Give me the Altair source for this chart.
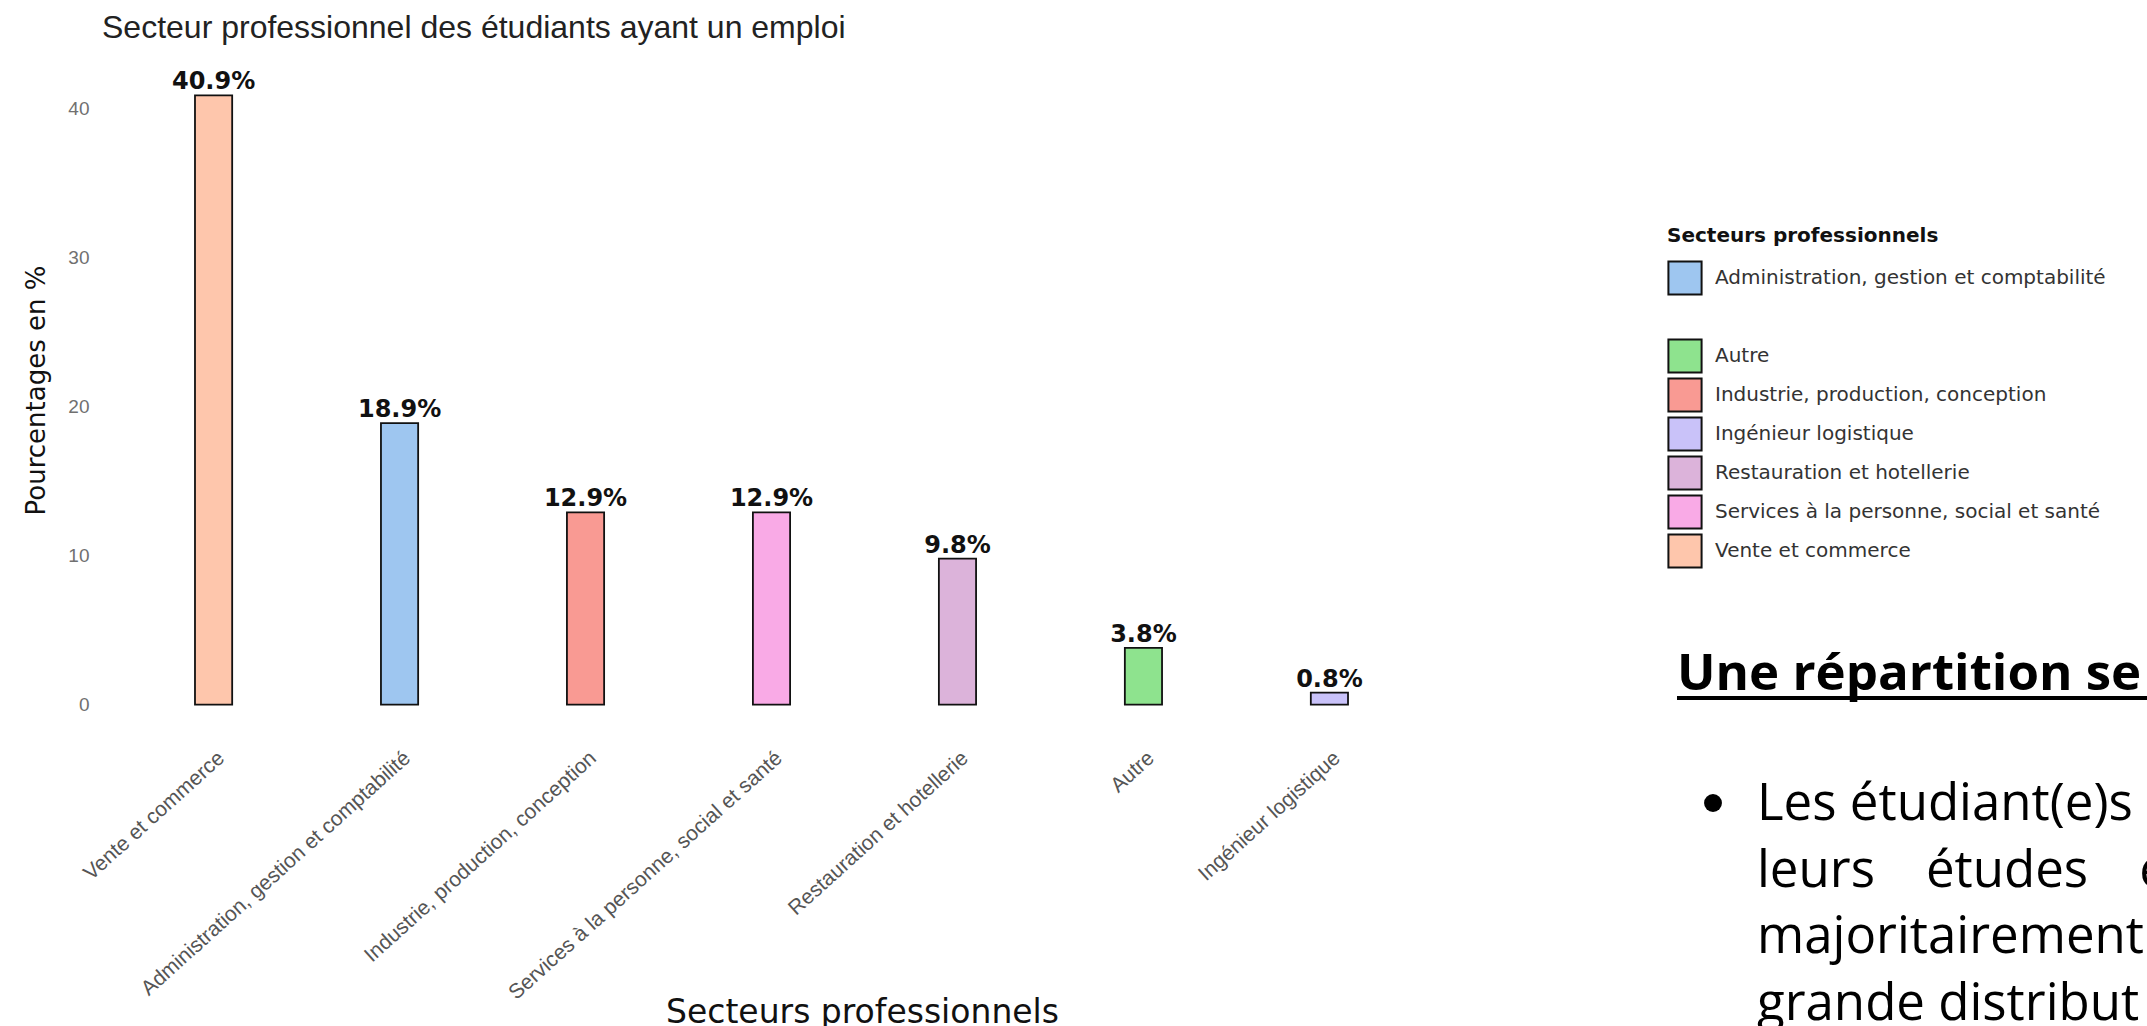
import altair as alt
import pandas as pd

# ---- data ----
sectors = [
    "Vente et commerce",
    "Administration, gestion et comptabilité",
    "Industrie, production, conception",
    "Services à la personne, social et santé",
    "Restauration et hotellerie",
    "Autre",
    "Ingénieur logistique",
]
values = [40.9, 18.9, 12.9, 12.9, 9.8, 3.8, 0.8]

legend_order = [
    "Administration, gestion et comptabilité",
    " ",
    "Autre",
    "Industrie, production, conception",
    "Ingénieur logistique",
    "Restauration et hotellerie",
    "Services à la personne, social et santé",
    "Vente et commerce",
]
fill_colors = ["#9ec6f0", "#ffffff", "#8ee38e", "#f99a93", "#c9c2f9", "#dcb3da", "#f9aae6", "#fec6ac"]
stroke_colors = ["#111111", "#ffffff", "#111111", "#111111", "#111111", "#111111", "#111111", "#111111"]

y_ticks = [0, 10, 20, 30, 40]

chart_title = "Secteur professionnel des étudiants ayant un emploi"
x_title = "Secteurs professionnels"
y_title = "Pourcentages en %"

heading = ["Une répartition se"]
bullet_lines = [
    "Les étudiant(e)s",
    "leurs\u2002\u2002études\u2002\u2002e",
    "majoritairement",
    "grande distribut",
]

df = pd.DataFrame({"secteur": sectors, "pct": values})
df_head = pd.DataFrame({"t": heading})
df_lines = pd.DataFrame({"t": bullet_lines, "i": list(range(len(bullet_lines)))})
df_one = pd.DataFrame({"k": [0]})

legend = alt.Legend(
    title="Secteurs professionnels",
    orient="none", legendX=1565, legendY=161,
    symbolType="square", symbolSize=1100, symbolStrokeWidth=2, symbolOpacity=1,
    titleFont="DejaVu Sans", titleFontSize=20, titleFontWeight="bold", titleColor="#111111",
    titleLimit=700,
    labelFont="DejaVu Sans", labelFontSize=20, labelColor="#333333", labelLimit=700,
    rowPadding=-4, labelOffset=12, titlePadding=14,
)

x_enc = alt.X(
    "secteur:N", sort=sectors,
    scale=alt.Scale(paddingInner=0.8, paddingOuter=0.5),
    axis=alt.Axis(
        title=x_title, titleFont="DejaVu Sans", titleFontSize=33, titleFontWeight="normal",
        titleColor="#111111", titleX=760, titleY=287, titleBaseline="alphabetic", titleAnchor="start",
        titleAlign="center",
        labelAngle=-42, labelAlign="right", labelBaseline="middle", labelFont="Liberation Sans",
        labelFontSize=21, labelColor="#555555", labelPadding=20, labelOffset=8, labelLimit=600,
        ticks=False, domain=False, grid=False,
    ),
)
y_enc = alt.Y(
    "pct:Q",
    scale=alt.Scale(domain=[-2.045, 42.945], nice=False, zero=False),
    axis=alt.Axis(
        title=y_title, titleFont="DejaVu Sans", titleFontSize=26, titleFontWeight="normal",
        titleColor="#111111", titleX=-58, titleY=325, titleBaseline="alphabetic", titleAngle=270,
        titleAlign="center", titleAnchor="start",
        values=y_ticks, labelFont="Liberation Sans", labelFontSize=19, labelColor="#707070",
        labelPadding=13, ticks=False, domain=False, grid=False,
    ),
)

bars = alt.Chart(df).mark_bar(strokeWidth=1.8, opacity=1).encode(
    x=x_enc,
    y=y_enc,
    y2=alt.datum(0),
    fill=alt.Fill("secteur:N", scale=alt.Scale(domain=legend_order, range=fill_colors), legend=legend),
    stroke=alt.Stroke("secteur:N", scale=alt.Scale(domain=legend_order, range=stroke_colors), legend=legend),
)

labels = alt.Chart(df).transform_calculate(
    lab="format(datum.pct, '.1f') + '%'"
).mark_text(
    font="DejaVu Sans", fontWeight="bold", fontSize=24, baseline="alphabetic", dy=-6, color="#111111"
).encode(
    x=alt.X("secteur:N", sort=sectors),
    y=alt.Y("pct:Q"),
    text="lab:N",
)

head = alt.Chart(df_head).mark_text(
    font="Open Sans", fontWeight="bold", fontSize=51, align="left", baseline="alphabetic", color="#000000"
).encode(x=alt.value(1575), y=alt.value(625), text="t:N")

underline = alt.Chart(df_one).mark_rule(color="#000000", strokeWidth=4).encode(
    x=alt.value(1575), x2=alt.value(2045), y=alt.value(633)
)

lines = alt.Chart(df_lines).transform_calculate(
    py="755 + datum.i * 66.5"
).mark_text(
    font="Open Sans", fontSize=51, align="left", baseline="alphabetic", color="#000000"
).encode(
    x=alt.value(1655),
    y=alt.Y("py:Q", scale=None, axis=None),
    text="t:N",
)

bullet = alt.Chart(df_one).mark_circle(color="#000000", opacity=1, size=320).encode(
    x=alt.value(1611), y=alt.value(738)
)

chart = alt.layer(bars, labels, head, underline, lines, bullet).properties(
    width=1339,
    height=670,
    title=alt.Title(
        chart_title, anchor="start", frame="group", font="Liberation Sans", fontSize=32,
        fontWeight="normal", color="#222222", offset=-5, baseline="alphabetic",
    ),
    autosize=alt.AutoSizeParams(type="none"),
    padding={"left": 102, "top": 65, "right": 706, "bottom": 291},
).configure(
    background="#ffffff",
    view=alt.ViewConfig(strokeWidth=0, stroke="transparent"),
)

chart.save("out.html", embed_options={"renderer": "svg", "actions": False})
